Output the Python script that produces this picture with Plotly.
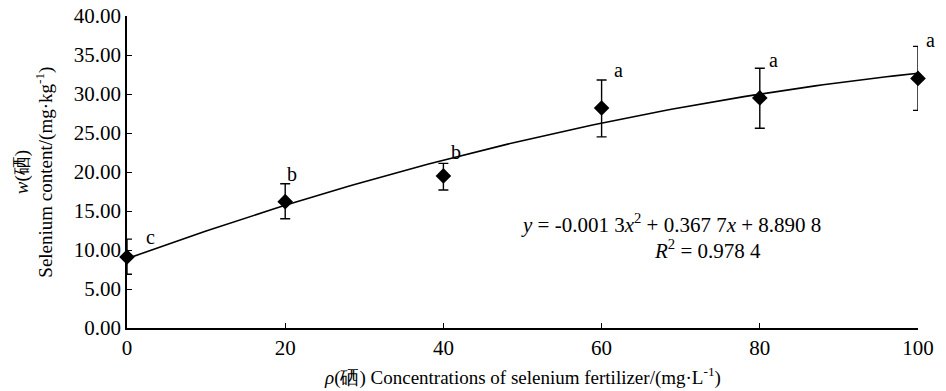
import numpy as np
import plotly.graph_objects as go

conc = [0, 20, 40, 60, 80, 100]
selenium = [9.1, 16.2, 19.5, 28.2, 29.5, 32.0]
err_plus = [2.3, 2.3, 1.6, 3.6, 3.8, 4.1]
err_minus = [2.2, 2.2, 1.8, 3.7, 3.9, 4.1]
sig_letters = ["c", "b", "b", "a", "a", "a"]
letter_y = [11.7, 19.7, 22.6, 33.1, 34.3, 36.9]

# fitted quadratic shown in chart: y = -0.0013x^2 + 0.3677x + 8.8908
fit_coef = [-0.0013, 0.3677, 8.8908]
fit_x = np.linspace(0, 100, 101)
fit_y = np.polyval(fit_coef, fit_x)

x_ticks = [0, 20, 40, 60, 80, 100]
y_ticks = [0, 5, 10, 15, 20, 25, 30, 35, 40]
y_tick_text = [f"{v:.2f}" for v in y_ticks]

serif = "Liberation Serif, Times New Roman, serif"
letter_shift_px = [23, 7, 13, 17, 14, 12]

fig = go.Figure()
fig.add_trace(go.Scatter(x=fit_x, y=fit_y, mode="lines", cliponaxis=False,
                         line=dict(color="black", width=1.6), showlegend=False,
                         hoverinfo="skip"))
fig.add_trace(go.Scatter(
    x=conc, y=selenium, mode="markers", cliponaxis=False,
    marker=dict(symbol="diamond", size=12, color="black"),
    error_y=dict(type="data", symmetric=False, array=err_plus, arrayminus=err_minus,
                 color="black", thickness=1.4, width=5),
    showlegend=False))

for lx, ly, lt, sh in zip(conc, letter_y, sig_letters, letter_shift_px):
    fig.add_annotation(x=lx, y=ly, xref="x", yref="y", text=lt, showarrow=False,
                       xanchor="center", yanchor="middle", xshift=sh,
                       font=dict(family=serif, size=20, color="black"))

fig.add_annotation(x=0.495, y=0.335, xref="paper", yref="paper", xanchor="left",
                   yanchor="middle", showarrow=False,
                   text="<i>y</i> = -0.001 3<i>x</i><sup>2</sup> + 0.367 7<i>x</i> + 8.890 8",
                   font=dict(family=serif, size=21, color="black"))
fig.add_annotation(x=0.664, y=0.252, xref="paper", yref="paper", xanchor="left",
                   yanchor="middle", showarrow=False,
                   text="<i>R</i><sup>2</sup> = 0.978 4",
                   font=dict(family=serif, size=21, color="black"))

# axis titles
fig.add_annotation(x=-0.118, y=0.5, xref="paper", yref="paper", xanchor="center",
                   yanchor="middle", showarrow=False, textangle=-90,
                   text="<i>w</i>(硒)<br>Selenium content/(mg·kg<sup>-1</sup>)",
                   font=dict(family=serif, size=19, color="black"))
fig.add_annotation(x=0.5, y=-0.154, xref="paper", yref="paper", xanchor="center",
                   yanchor="middle", showarrow=False,
                   text="<i>ρ</i>(硒) Concentrations of selenium fertilizer/(mg·L<sup>-1</sup>)",
                   font=dict(family=serif, size=19, color="black"))

fig.update_layout(
    width=946, height=391,
    margin=dict(l=127, r=28, t=16, b=63),
    paper_bgcolor="white", plot_bgcolor="white",
    font=dict(family=serif, size=21, color="black"),
)
fig.update_xaxes(range=[0, 100], tickvals=x_ticks, ticks="inside", ticklen=5,
                 tickwidth=1.2, tickcolor="black", showline=True, linecolor="black",
                 linewidth=1.6, showgrid=False, zeroline=False, automargin=False,
                 tickfont=dict(family=serif, size=21))
fig.update_yaxes(range=[0, 40], tickvals=y_ticks, ticktext=y_tick_text, ticks="inside",
                 ticklen=5, tickwidth=1.2, tickcolor="black", showline=True,
                 linecolor="black", linewidth=1.6, showgrid=False, zeroline=False,
                 automargin=False, tickfont=dict(family=serif, size=21))

# remove the default page margin so the figure sits at the window's top-left corner
fig.write_html("out.html", config={"displayModeBar": False},
               post_script="document.body.style.margin='0';document.body.style.overflow='hidden';")
